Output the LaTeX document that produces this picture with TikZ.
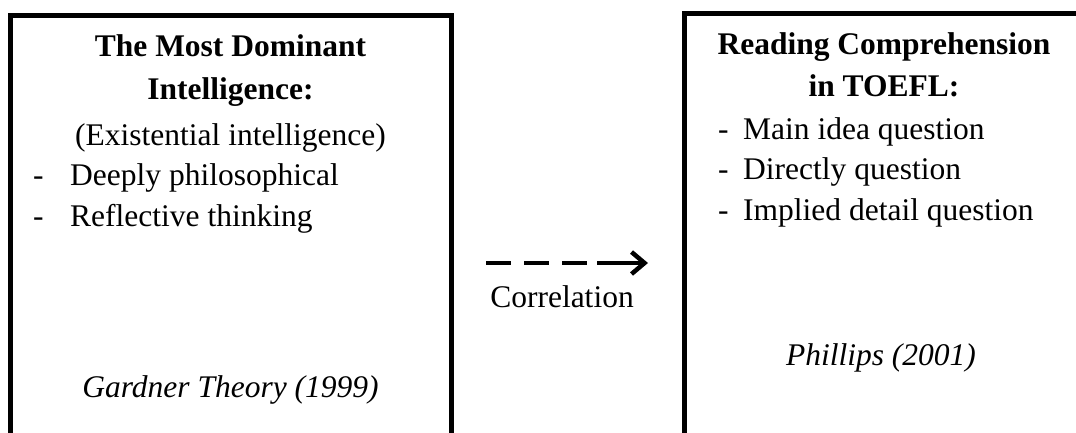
\documentclass[tikz,border=0pt]{standalone}
\usepackage{fontspec}
\setmainfont{Liberation Serif}
\usetikzlibrary{arrows.meta}
\begin{document}
\begin{tikzpicture}[x=1pt,y=-1pt,
  txt/.style={inner sep=0pt, font=\fontsize{31.5}{38}\selectfont, anchor=base},
  item/.style={txt, anchor=base west},
  boxline/.style={draw=black, line width=5pt},
  conn/.style={draw=black, line width=4.5pt,
    dash pattern=on 25pt off 13pt on 25pt off 13pt on 25pt off 10pt on 80pt,
    -{Straight Barb[length=13pt,width=22pt,line width=4.5pt]}}]
\clip (0,0) rectangle (1076,432);
\fill[white] (0,0) rectangle (1076,432);
% boxes (cropped by the page at the bottom / right)
\draw[boxline] (10.5,450) -- (10.5,15) -- (451,15) -- (451,450);
\draw[boxline] (684.5,450) -- (684.5,13) -- (1083,13) -- (1083,450);
% left box text
\node[txt, font=\fontsize{31.5}{38}\selectfont\bfseries] (l1) at (230.5,56) {The Most Dominant};
\node[txt, font=\fontsize{31.5}{38}\selectfont\bfseries] (l2) at (230.5,99) {Intelligence:};
\node[txt] (l3) at (230.5,145) {(Existential intelligence)};
\node[item] (ld1) at (33,185.5) {-};
\node[item] (li1) at (70,185.5) {Deeply philosophical};
\node[item] (ld2) at (33,226) {-};
\node[item] (li2) at (70,226) {Reflective thinking};
\node[txt, font=\fontsize{31.5}{38}\selectfont\itshape] (lsrc) at (230.5,397) {Gardner Theory (1999)};
% right box text
\node[txt, font=\fontsize{31.5}{38}\selectfont\bfseries] (r1) at (884,54) {Reading Comprehension};
\node[txt, font=\fontsize{31.5}{38}\selectfont\bfseries] (r2) at (884,96) {in TOEFL:};
\node[item] (rd1) at (718,139) {-};
\node[item] (ri1) at (743,139) {Main idea question};
\node[item] (rd2) at (718,179) {-};
\node[item] (ri2) at (743,179) {Directly question};
\node[item] (rd3) at (718,220) {-};
\node[item] (ri3) at (743,220) {Implied detail question};
\node[txt, font=\fontsize{31.5}{38}\selectfont\itshape] (rsrc) at (881,365) {Phillips (2001)};
% correlation arrow
\coordinate (a) at (486,263);
\coordinate (b) at (648,263);
\draw[conn] (a) -- (b);
\node[txt] (corr) at (562,307) {Correlation};
\end{tikzpicture}
\end{document}
